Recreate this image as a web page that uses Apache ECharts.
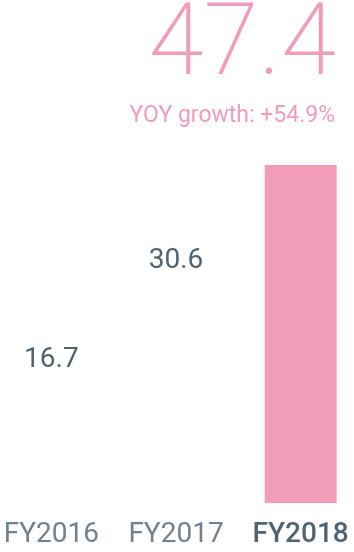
<!DOCTYPE html>
<html><head><meta charset="utf-8">
<script src="https://cdn.jsdelivr.net/npm/echarts@6/dist/echarts.min.js"></script>
<style>html,body{margin:0;padding:0;background:#fff}#c{width:354px;height:552px}</style>
</head><body><div id="c"></div>
<script>
var categories = ['FY2016', 'FY2017', 'FY2018'];
var values = [16.7, 30.6, 47.4];
var headline = '47.4';
var growthText = 'YOY growth: +54.9%';

var pink = '#f29db7';
var font = 'Roboto, sans-serif';
var chart = echarts.init(document.getElementById('c'));
chart.setOption({
  animation: false,
  title: [
    { text: headline, right: 13, top: -6,
      textStyle: { color: pink, fontSize: 100, fontWeight: 200, fontFamily: font } },
    { text: growthText, right: 14, top: 100,
      textStyle: { color: pink, fontSize: 23, fontWeight: 'normal', fontFamily: font } }
  ],
  grid: { left: -11, right: -9, top: 165, bottom: 49, containLabel: false, outerBoundsMode: 'none' },
  xAxis: {
    type: 'category', data: categories,
    axisLine: { show: false }, axisTick: { show: false },
    axisLabel: {
      interval: 0, hideOverlap: false,
      margin: 18, fontSize: 28, fontFamily: font, color: '#6f828d',
      formatter: function (v, i) { return i === 2 ? '{b|' + v + '}' : v; },
      rich: { b: { fontSize: 28, fontFamily: font, color: '#4f6370', fontWeight: 500 } }
    }
  },
  yAxis: { type: 'value', min: 0, max: 47.4, show: false, splitLine: { show: false } },
  series: [{
    type: 'bar', barWidth: 72,
    data: values.map(function (v, i) {
      return {
        value: v,
        itemStyle: { color: i === 2 ? pink : 'rgba(0,0,0,0)' },
        label: { show: i !== 2 }
      };
    }),
    label: { position: 'top', distance: 10, fontSize: 28, fontFamily: font, color: '#4f6370' }
  }]
});
</script></body></html>
